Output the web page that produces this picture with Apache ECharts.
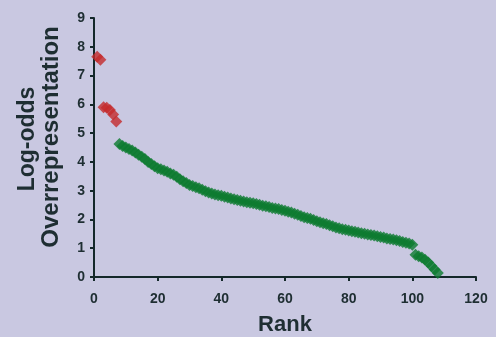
<!DOCTYPE html>
<html>
<head>
<meta charset="utf-8">
<script src="https://cdn.jsdelivr.net/npm/echarts@6/dist/echarts.min.js"></script>
<style>
html,body{margin:0;padding:0;background:#c9c8e1;}
#chart{width:496px;height:337px;}
</style>
</head>
<body>
<div id="chart"></div>
<script>
// Red (top-ranked) points: rank and log-odds
const redRanks = [1, 2, 3, 4, 5, 6, 7];
const redValues = [7.65, 7.55, 5.9, 5.88, 5.8, 5.65, 5.4];

// Green points: ranks 8..108
const greenStartRank = 8;
const greenValues = [
  4.62, 4.55, 4.5, 4.45, 4.4, 4.33, 4.25, 4.18, 4.1, 4.0,
  3.93, 3.85, 3.78, 3.74, 3.7, 3.66, 3.6, 3.55, 3.48, 3.4,
  3.33, 3.27, 3.2, 3.16, 3.12, 3.08, 3.03, 2.98, 2.94, 2.9,
  2.87, 2.84, 2.82, 2.79, 2.76, 2.73, 2.7, 2.68, 2.65, 2.62,
  2.6, 2.58, 2.56, 2.54, 2.51, 2.48, 2.46, 2.43, 2.4, 2.38,
  2.36, 2.33, 2.3, 2.27, 2.24, 2.2, 2.16, 2.12, 2.08, 2.05,
  2.02, 1.98, 1.94, 1.9, 1.87, 1.84, 1.8, 1.76, 1.72, 1.69,
  1.66, 1.64, 1.62, 1.59, 1.57, 1.55, 1.52, 1.5, 1.48, 1.46,
  1.44, 1.42, 1.39, 1.37, 1.34, 1.32, 1.3, 1.28, 1.25, 1.22,
  1.19, 1.16, 1.12,
  0.77, 0.72, 0.68, 0.6, 0.5, 0.38, 0.26, 0.14
];

const xTicks = [0, 20, 40, 60, 80, 100, 120];
const yTicks = [0, 1, 2, 3, 4, 5, 6, 7, 8, 9];

const redData = redRanks.map((r, i) => [r, redValues[i]]);
const greenData = greenValues.map((v, i) => [greenStartRank + i, v]);

const textColor = '#1e2e32';
const axisColor = '#14282a';

const chart = echarts.init(document.getElementById('chart'), null, {renderer: 'canvas'});
chart.setOption({
  backgroundColor: '#c9c8e1',
  animation: false,
  grid: {left: 94, right: 20, top: 18, bottom: 60, containLabel: false, outerBoundsMode: 'none'},
  xAxis: {
    type: 'value',
    min: xTicks[0], max: xTicks[xTicks.length - 1], interval: 20,
    name: 'Rank', nameLocation: 'middle', nameGap: 37,
    nameTextStyle: {fontFamily: 'Liberation Sans', fontWeight: 'bold', fontSize: 22, color: textColor},
    axisLine: {show: true, lineStyle: {color: axisColor, width: 2}},
    axisTick: {show: true, inside: false, length: 4, lineStyle: {color: axisColor, width: 2}},
    axisLabel: {fontFamily: 'Liberation Sans', fontWeight: 'bold', fontSize: 14, color: textColor, margin: 15},
    splitLine: {show: false}
  },
  yAxis: {
    type: 'value',
    min: yTicks[0], max: yTicks[yTicks.length - 1], interval: 1,
    axisLine: {show: true, lineStyle: {color: axisColor, width: 2}},
    axisTick: {show: true, inside: false, length: 4, lineStyle: {color: axisColor, width: 2}},
    axisLabel: {fontFamily: 'Liberation Sans', fontWeight: 'bold', fontSize: 14, color: textColor, margin: 9},
    splitLine: {show: false}
  },
  graphic: [
    {type: 'text', x: 28, y: 139, rotation: Math.PI / 2,
     style: {text: 'Log-odds', fill: textColor, font: 'bold 23px "Liberation Sans"', textAlign: 'center', textVerticalAlign: 'middle'}},
    {type: 'text', x: 51, y: 137, rotation: Math.PI / 2,
     style: {text: 'Overrepresentation', fill: textColor, font: 'bold 24px "Liberation Sans"', textAlign: 'center', textVerticalAlign: 'middle'}}
  ],
  series: [
    {type: 'scatter', data: greenData, symbol: 'diamond', symbolSize: 12,
     itemStyle: {color: '#0c7a30'}},
    {type: 'scatter', data: redData, symbol: 'diamond', symbolSize: 12,
     itemStyle: {color: '#c42a2c'}}
  ]
});
</script>
</body>
</html>
